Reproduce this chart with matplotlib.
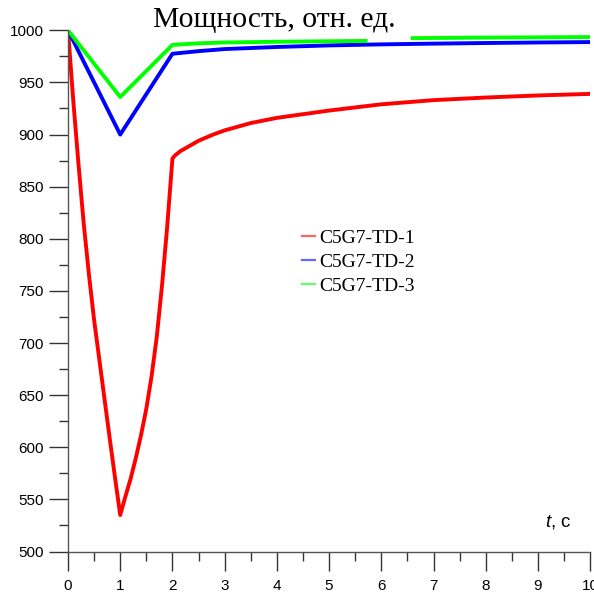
import numpy as np
import matplotlib.pyplot as plt
from matplotlib.lines import Line2D
from matplotlib.ticker import MultipleLocator

plt.rcParams['mathtext.fontset'] = 'custom'
plt.rcParams['mathtext.it'] = 'Liberation Sans:italic'
plt.rcParams['mathtext.rm'] = 'Liberation Sans'

# -----------------
#    data
# -----------------
t_red = [0, 0.1, 0.2, 0.3, 0.4, 0.5, 0.6, 0.7, 0.8, 0.9, 1.0,
         1.1, 1.2, 1.3, 1.4, 1.5, 1.6, 1.7, 1.8, 1.9, 2.0,
         2.05, 2.15, 2.5, 2.78, 3.0, 3.5, 4.0, 5.0, 6.0, 7.0, 8.0, 9.0, 10.0]
p_red = [1000, 933, 872, 815, 766, 722, 684, 646, 608, 571, 535,
         553, 570, 590, 612, 637, 668, 706, 755, 812, 877,
         880, 884, 894, 900, 904, 911, 916, 923, 929, 933, 935.5, 937.5, 939]

t_blue = [0, 1.0, 2.0, 2.5, 3.0, 4.0, 5.0, 6.0, 7.0, 8.0, 9.0, 10.0]
p_blue = [1000, 900, 977.5, 980, 982, 984, 985.5, 986.5, 987.2, 987.8, 988.3, 988.7]

# green has a gap between ~5.7 and 6.6 s
t_green = [0, 1.0, 2.0, 2.5, 3.0, 4.0, 5.0, 5.7, 5.71, 6.6, 8.0, 10.0]
p_green = [1000, 936, 986, 987.5, 988.3, 989, 989.5, 989.8, np.nan, 992.5, 993, 993.5]

labels = ['C5G7-TD-1', 'C5G7-TD-2', 'C5G7-TD-3']
colors = ['#ff0000', '#0000ff', '#00ff00']

# -----------------
#    plot
# -----------------
fig = plt.figure(figsize=(5.94, 5.94), dpi=100)
ax = fig.add_axes([0.1145, 0.0715, 0.879, 0.8775])

ax.plot(t_red, p_red, color=colors[0], lw=2.8)
ax.plot(t_blue, p_blue, color=colors[1], lw=2.8)
ax.plot(t_green, p_green, color=colors[2], lw=2.8)

ax.set_xlim(0, 10)
ax.set_ylim(500, 1000)
ax.xaxis.set_major_locator(MultipleLocator(1))
ax.xaxis.set_minor_locator(MultipleLocator(0.5))
ax.yaxis.set_major_locator(MultipleLocator(50))
ax.yaxis.set_minor_locator(MultipleLocator(25))

for s in ['top', 'right']:
    ax.spines[s].set_visible(False)
for s in ['left', 'bottom']:
    ax.spines[s].set_color('#555555')
    ax.spines[s].set_linewidth(1.0)

ax.tick_params(which='major', length=13.5, width=1.0, color='#333333',
               labelsize=11, labelcolor='black')
ax.tick_params(which='minor', length=6.5, width=1.0, color='#333333')
ax.tick_params(axis='x', which='major', pad=6)
ax.tick_params(axis='y', which='major', pad=4)
for lab in ax.get_xticklabels() + ax.get_yticklabels():
    lab.set_family('Liberation Sans')

# title and axis label
fig.text(0.2576, 0.955, 'Мощность, отн. ед.', family='Liberation Serif',
         fontsize=21.3, ha='left', va='baseline')
fig.text(0.917, 0.113, '$t$, с', family='Liberation Sans', fontsize=13.5,
         ha='left', va='baseline')

handles = [Line2D([], [], color=c, lw=1.6, alpha=0.6) for c in colors]
leg = fig.legend(handles, labels, loc='upper left',
                 bbox_to_anchor=(0.508, 0.614), frameon=False,
                 prop={'family': 'Liberation Serif', 'size': 14},
                 handlelength=0.7, handletextpad=0.2, labelspacing=0.33,
                 borderpad=0, borderaxespad=0)

plt.savefig('out.png', dpi=100)
